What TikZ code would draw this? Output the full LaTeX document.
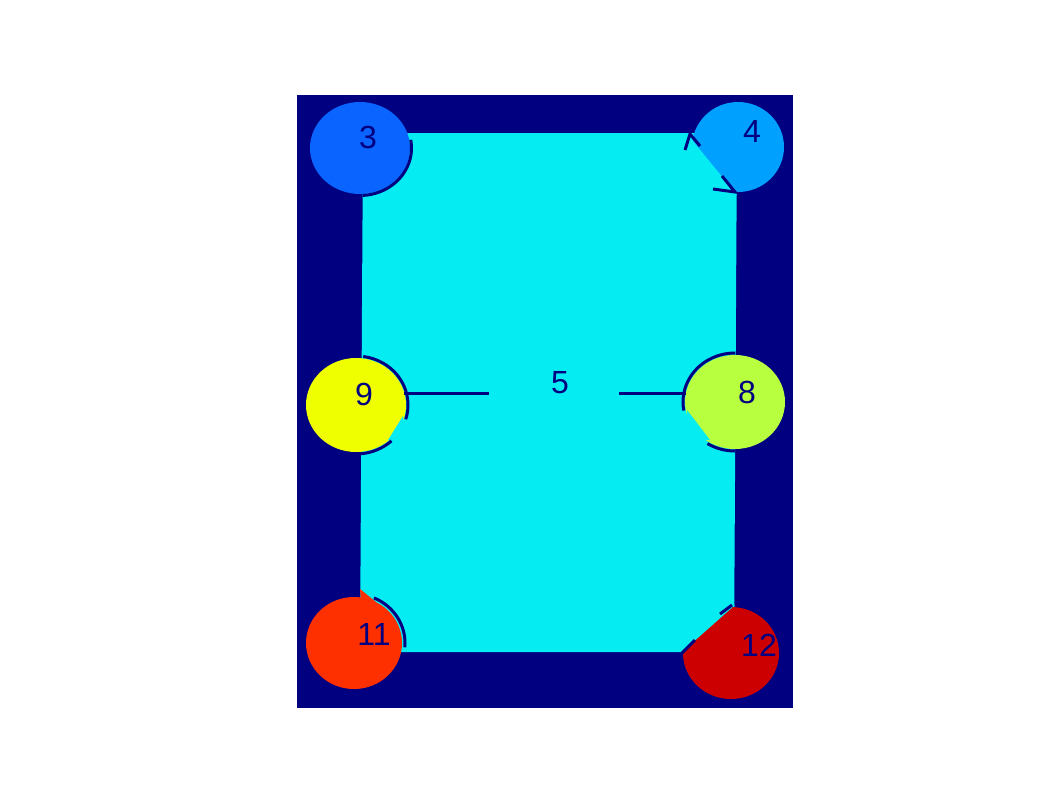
\documentclass[tikz,border=0pt]{standalone}
\usepackage{fontspec}
\setmainfont{Liberation Sans}
\definecolor{navy}{HTML}{000080}
\definecolor{cyanreg}{HTML}{05EDF2}
\definecolor{cthree}{HTML}{0A64FF}
\definecolor{cfour}{HTML}{00A0FF}
\definecolor{cnine}{HTML}{F0FF00}
\definecolor{ceight}{HTML}{B8FF40}
\definecolor{celeven}{HTML}{FF3000}
\definecolor{ctwelve}{HTML}{CC0000}
\begin{document}
\begin{tikzpicture}[x=1pt,y=-1pt,
  bnd/.style={draw=navy,line width=3pt},
  lbl/.style={text=navy,font=\fontsize{32}{32}\selectfont,inner sep=0pt}]
\useasboundingbox (0,0) rectangle (1062,796);
\fill[white] (0,0) rectangle (1062,796);
% outer region
\fill[navy] (297,95) rectangle (793,708);
% inner region
\fill[cyanreg] (363,133) -- (737,133) -- (734,652) -- (360,652) -- cycle;
% circles
\fill[cthree] (360,148) ellipse[x radius=50,y radius=46];
\fill[cfour] (738,147) ellipse[x radius=46,y radius=45];
\fill[cnine] (356,405) ellipse[x radius=50,y radius=47];
\fill[ceight] (735,402) ellipse[x radius=50,y radius=47];
\fill[celeven] (354,643) ellipse[x radius=48,y radius=46];
\fill[celeven] (360,589) -- (361,602) -- (376,602) -- cycle;
\fill[ctwelve] (731,653) ellipse[x radius=48,y radius=46];
% cyan segments over circles
\fill[cyanreg] (692,140) -- (737,195) -- (692,195) -- cycle;
\fill[cyanreg] (403,416) -- (388,440) -- (406,440) -- cycle;
\fill[cyanreg] (687,410) -- (710,440) -- (687,440) -- cycle;
\fill[cyanreg] (682,652) -- (735,605) -- (682,605) -- cycle;
% boundary strokes
\draw[bnd] (360,148) ++(-10:51.5 and 47.5) arc[start angle=-10,end angle=87,x radius=51.5,y radius=47.5];
\draw[bnd] (356,405) ++(-82:52 and 49) arc[start angle=-82,end angle=17,x radius=52,y radius=49];
\draw[bnd] (356,405) ++(47:52 and 49) arc[start angle=47,end angle=85,x radius=52,y radius=49];
\draw[bnd] (735,402) ++(-90:52 and 49) arc[start angle=-90,end angle=-190,x radius=52,y radius=49];
\draw[bnd] (735,402) ++(122:52 and 49) arc[start angle=122,end angle=90,x radius=52,y radius=49];
\draw[bnd] (354,643) ++(-67:51 and 49) arc[start angle=-67,end angle=5,x radius=51,y radius=49];
\draw[bnd] (685,150) -- (690,134) -- (700,146);
\draw[bnd] (722,176) -- (735,192) -- (713,189);
\draw[bnd] (682,653) -- (695,640);
\draw[bnd] (720,614) -- (732,605);
% lines toward the centre
\coordinate (l1) at (404,393);
\coordinate (l2) at (489,393);
\coordinate (r1) at (619,393);
\coordinate (r2) at (686,393);
\draw[bnd] (l1) -- (l2);
\draw[bnd] (r1) -- (r2);
% labels
\node[lbl] (t3) at (368,137) {3};
\node[lbl] (t4) at (752,131) {4};
\node[lbl] (t9) at (364,394) {9};
\node[lbl] (t8) at (747,392) {8};
\node[lbl] (t5) at (560,383) {5};
\node[lbl] (t11) at (374,634) {11};
\node[lbl] (t12) at (759,645) {12};
\end{tikzpicture}
\end{document}
